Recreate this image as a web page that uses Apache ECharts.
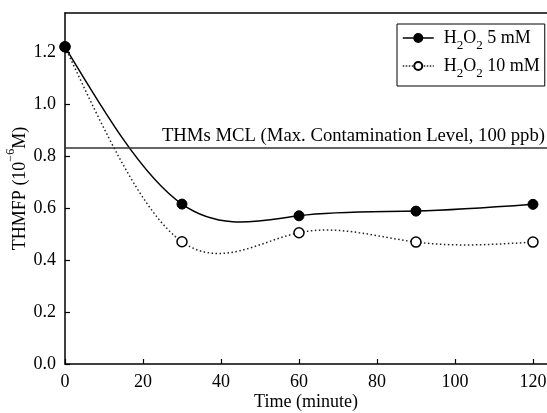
<!DOCTYPE html>
<html><head><meta charset="utf-8">
<script src="https://cdn.jsdelivr.net/npm/echarts@6/dist/echarts.min.js"></script>
<style>html,body{margin:0;padding:0;background:#fff}#c{width:547px;height:413px}</style>
</head><body><div id="c"></div>
<script>
const times = [0, 30, 60, 90, 120];
const h2o2_5mM = [1.22, 0.615, 0.57, 0.588, 0.614];
const h2o2_10mM = [1.22, 0.47, 0.505, 0.469, 0.469];
const mclValue = 0.83;
const mclLabel = 'THMs MCL (Max. Contamination Level, 100 ppb)';
const seriesNames = ['H2O2 5 mM', 'H2O2 10 mM'];
const xTicks = [0, 20, 40, 60, 80, 100, 120];
const yTicks = [0.0, 0.2, 0.4, 0.6, 0.8, 1.0, 1.2];

const F = 'Liberation Serif, Times New Roman, serif';
const FS = 18;
const chart = echarts.init(document.getElementById('c'), null, {renderer: 'canvas'});
const pair = (xs, ys) => xs.map((x, i) => [x, ys[i]]);

// Natural cubic spline slopes (used only to shape the connecting curve)
function splineSlopes(xs, ys) {
  const n = xs.length, M = new Array(n).fill(0);
  if (n > 2) {
    const a = [], b = [], c = [], d = [];
    for (let i = 1; i < n - 1; i++) {
      const h0 = xs[i] - xs[i - 1], h1 = xs[i + 1] - xs[i];
      a.push(h0 / 6); b.push((h0 + h1) / 3); c.push(h1 / 6);
      d.push((ys[i + 1] - ys[i]) / h1 - (ys[i] - ys[i - 1]) / h0);
    }
    const m = d.length;
    for (let i = 1; i < m; i++) { const w = a[i] / b[i - 1]; b[i] -= w * c[i - 1]; d[i] -= w * d[i - 1]; }
    const sol = new Array(m);
    sol[m - 1] = d[m - 1] / b[m - 1];
    for (let i = m - 2; i >= 0; i--) sol[i] = (d[i] - c[i] * sol[i + 1]) / b[i];
    for (let i = 0; i < m; i++) M[i + 1] = sol[i];
  }
  const s = [];
  for (let i = 0; i < n; i++) {
    if (i < n - 1) { const h = xs[i + 1] - xs[i]; s.push((ys[i + 1] - ys[i]) / h - h * (2 * M[i] + M[i + 1]) / 6); }
    else { const h = xs[i] - xs[i - 1]; s.push((ys[i] - ys[i - 1]) / h + h * (M[i - 1] + 2 * M[i]) / 6); }
  }
  return s;
}
function curveSeries(xs, ys, style) {
  const slopes = splineSlopes(xs, ys);
  return {
    type: 'custom', silent: true, z: 1, clip: true,
    data: pair(xs, ys),
    renderItem: (params, api) => {
      const i = params.dataIndex;
      if (i >= xs.length - 1) return null;
      const h = xs[i + 1] - xs[i];
      const p0 = api.coord([xs[i], ys[i]]), p1 = api.coord([xs[i + 1], ys[i + 1]]);
      const c0 = api.coord([xs[i] + h / 3, ys[i] + slopes[i] * h / 3]);
      const c1 = api.coord([xs[i + 1] - h / 3, ys[i + 1] - slopes[i + 1] * h / 3]);
      return {type: 'bezierCurve',
        shape: {x1: p0[0], y1: p0[1], x2: p1[0], y2: p1[1], cpx1: c0[0], cpy1: c0[1], cpx2: c1[0], cpy2: c1[1]},
        style: Object.assign({fill: null}, style)};
    }
  };
}
const subRich = {
  n: {fontFamily: F, fontSize: 18, color: '#000'},
  s: {fontFamily: F, fontSize: 13, color: '#000', verticalAlign: 'bottom', padding: [0, 0, -5, 0]}
};
chart.setOption({
  animation: false,
  backgroundColor: '#fff',
  grid: {left: 65, top: 13, right: 0, bottom: 49, outerBoundsMode: 'none', containLabel: false},
  legend: {
    left: 397, top: 24, orient: 'vertical',
    backgroundColor: '#fff', borderColor: '#000', borderWidth: 1, borderRadius: 0,
    padding: [5, 5, 6, 5], itemGap: 5, itemWidth: 31, itemHeight: 10,
    data: [
      {name: seriesNames[0], lineStyle: {opacity: 1, color: '#000', width: 1.5, type: 'solid'}},
      {name: seriesNames[1], lineStyle: {opacity: 1, color: '#222', width: 1.5, type: 'dotted'}}
    ],
    formatter: n => n.replace(/H2O2(.*)/, '{n|H}{s|2}{n|O}{s|2}{n|$1}'),
    textStyle: {fontFamily: F, fontSize: 18, color: '#000', rich: subRich, padding: [0, 0, 0, 5]}
  },
  xAxis: [{
    type: 'value', min: 0, max: 123.6, interval: 20,
    name: 'Time (minute)', nameLocation: 'middle', nameGap: 29, nameMoveOverlap: false,
    nameTextStyle: {fontFamily: F, fontSize: FS, color: '#000'},
    axisLine: {lineStyle: {color: '#000', width: 1.5}},
    axisTick: {inside: true, length: 5, lineStyle: {color: '#000', width: 1.2}},
    axisLabel: {fontFamily: F, fontSize: FS, color: '#000', margin: 9, showMaxLabel: false,
      formatter: v => xTicks.includes(v) ? String(v) : ''},
    splitLine: {show: false}
  }, {
    type: 'value', position: 'top', min: 0, max: 123.6,
    axisLine: {lineStyle: {color: '#000', width: 1.5}},
    axisTick: {show: false}, axisLabel: {show: false}, splitLine: {show: false}
  }],
  yAxis: {
    type: 'value', min: 0, max: 1.35, interval: 0.2,
    name: '{n|THMFP (10}{p|−6}{n|M)}', nameLocation: 'middle', nameGap: 36, nameMoveOverlap: false,
    nameTextStyle: {fontFamily: F, fontSize: FS, color: '#000',
      rich: {n: {fontFamily: F, fontSize: FS, color: '#000'},
             p: {fontFamily: F, fontSize: 12, color: '#000', verticalAlign: 'top', padding: [-6, 0, 0, 0]}}},
    axisLine: {show: true, lineStyle: {color: '#000', width: 1.5}},
    axisTick: {inside: true, length: 5, lineStyle: {color: '#000', width: 1.2}},
    axisLabel: {fontFamily: F, fontSize: FS, color: '#000', margin: 9, showMaxLabel: false,
      formatter: v => {const t = yTicks.find(y => Math.abs(y - v) < 1e-6); return t === undefined ? '' : t.toFixed(1);}},
    splitLine: {show: false}
  },
  series: [
    curveSeries(times, h2o2_5mM, {stroke: '#000', lineWidth: 1.5}),
    curveSeries(times, h2o2_10mM, {stroke: '#222', lineWidth: 1.5, lineDash: [1.5, 2.5]}),
    {
      name: seriesNames[1], type: 'line',
      data: pair(times, h2o2_10mM),
      symbol: 'circle', symbolSize: 10,
      itemStyle: {color: '#fff', borderColor: '#000', borderWidth: 1.5},
      lineStyle: {opacity: 0, color: '#222', width: 1.5, type: 'dotted'},
      z: 3
    }, {
      name: seriesNames[0], type: 'line',
      data: pair(times, h2o2_5mM),
      symbol: 'circle', symbolSize: 10,
      itemStyle: {color: '#000', borderColor: '#000', borderWidth: 1},
      lineStyle: {opacity: 0, color: '#000', width: 1.5},
      markLine: {
        silent: true, symbol: 'none',
        lineStyle: {color: '#333', width: 1.5, type: 'solid', opacity: 1},
        label: {show: true, position: 'insideEndTop', formatter: mclLabel, distance: [2, 3],
          fontFamily: F, fontSize: 18.7, color: '#000'},
        data: [{yAxis: mclValue}]
      },
      z: 4
    }
  ]
});
</script></body></html>
